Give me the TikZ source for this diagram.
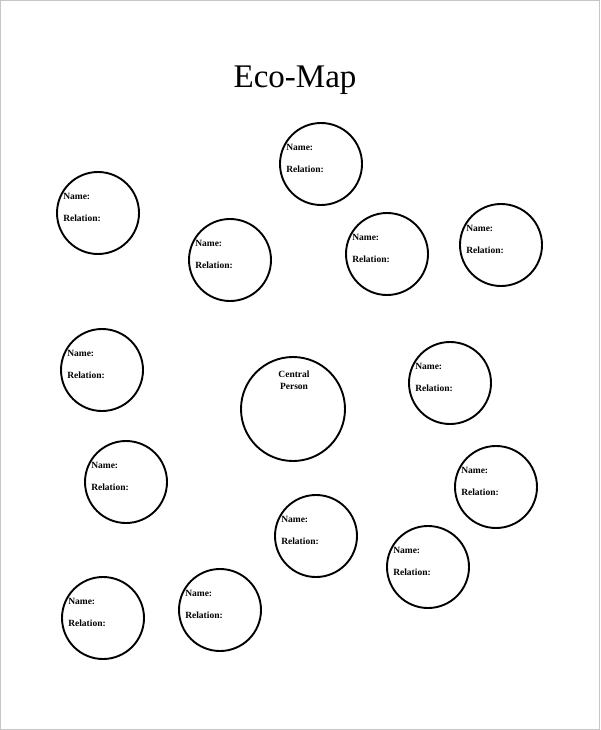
\documentclass[tikz,border=0pt]{standalone}
\usepackage{fontspec}
\setmainfont{Liberation Serif}
\usetikzlibrary{calc}
\tikzset{member/.style={circle, draw, line width=1.9pt, minimum size=82pt, inner sep=0pt}}
\tikzset{central/.style={circle, draw, line width=1.9pt, minimum size=104pt, inner sep=0pt}}
\tikzset{field/.style={anchor=west, inner sep=0pt, font=\fontsize{9.5}{11}\selectfont\bfseries}}
\tikzset{heading/.style={font=\fontsize{33}{40}\selectfont}}

\begin{document}
\begin{tikzpicture}[x=1pt, y=-1pt]
    \useasboundingbox (0,0) rectangle (600,730);
    \draw [gray!45, line width=1pt] (0.5,0.5) rectangle (599.5,729.5);

    \node [heading] (title) at (295,80) {Eco-Map};

    % The person in the middle.
    \node [central] (centre) at (293,409) {};
    \node [field, anchor=center, align=center, font=\fontsize{9.5}{12}\selectfont\bfseries]
        (centreText) at ($(centre) + (1pt,29pt)$) {Central\\Person};

    % The circles around the central person.
    \node [member] (m1) at (321,164) {};
    \node [member] (m2) at (98,213) {};
    \node [member] (m3) at (230,260) {};
    \node [member] (m4) at (387,254) {};
    \node [member] (m5) at (501,245) {};
    \node [member] (m6) at (102,370) {};
    \node [member] (m7) at (450,383) {};
    \node [member] (m8) at (126,482) {};
    \node [member] (m9) at (496,487) {};
    \node [member] (m10) at (316,536) {};
    \node [member] (m11) at (428,567) {};
    \node [member] (m12) at (103,618) {};
    \node [member] (m13) at (220,610) {};

    % The fields inside each circle.
    \node [field] (name1) at ($(m1.west) + (7pt,17pt)$) {Name:};
    \node [field] (rel1) at ($(m1.west) + (7pt,-5pt)$) {Relation:};
    \node [field] (name2) at ($(m2.west) + (7pt,17pt)$) {Name:};
    \node [field] (rel2) at ($(m2.west) + (7pt,-5pt)$) {Relation:};
    \node [field] (name3) at ($(m3.west) + (7pt,17pt)$) {Name:};
    \node [field] (rel3) at ($(m3.west) + (7pt,-5pt)$) {Relation:};
    \node [field] (name4) at ($(m4.west) + (7pt,17pt)$) {Name:};
    \node [field] (rel4) at ($(m4.west) + (7pt,-5pt)$) {Relation:};
    \node [field] (name5) at ($(m5.west) + (7pt,17pt)$) {Name:};
    \node [field] (rel5) at ($(m5.west) + (7pt,-5pt)$) {Relation:};
    \node [field] (name6) at ($(m6.west) + (7pt,17pt)$) {Name:};
    \node [field] (rel6) at ($(m6.west) + (7pt,-5pt)$) {Relation:};
    \node [field] (name7) at ($(m7.west) + (7pt,17pt)$) {Name:};
    \node [field] (rel7) at ($(m7.west) + (7pt,-5pt)$) {Relation:};
    \node [field] (name8) at ($(m8.west) + (7pt,17pt)$) {Name:};
    \node [field] (rel8) at ($(m8.west) + (7pt,-5pt)$) {Relation:};
    \node [field] (name9) at ($(m9.west) + (7pt,17pt)$) {Name:};
    \node [field] (rel9) at ($(m9.west) + (7pt,-5pt)$) {Relation:};
    \node [field] (name10) at ($(m10.west) + (7pt,17pt)$) {Name:};
    \node [field] (rel10) at ($(m10.west) + (7pt,-5pt)$) {Relation:};
    \node [field] (name11) at ($(m11.west) + (7pt,17pt)$) {Name:};
    \node [field] (rel11) at ($(m11.west) + (7pt,-5pt)$) {Relation:};
    \node [field] (name12) at ($(m12.west) + (7pt,17pt)$) {Name:};
    \node [field] (rel12) at ($(m12.west) + (7pt,-5pt)$) {Relation:};
    \node [field] (name13) at ($(m13.west) + (7pt,17pt)$) {Name:};
    \node [field] (rel13) at ($(m13.west) + (7pt,-5pt)$) {Relation:};

\end{tikzpicture}
\end{document}
